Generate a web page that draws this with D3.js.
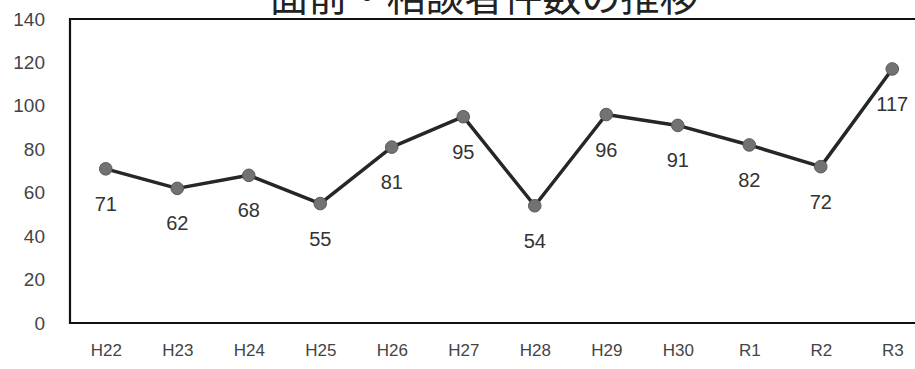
<!DOCTYPE html>
<html>
<head>
<meta charset="utf-8">
<script src="https://cdn.jsdelivr.net/npm/d3@7"></script>
<style>
  html, body { margin: 0; padding: 0; background: #fff; }
  svg { display: block; }
</style>
</head>
<body>
<svg id="chart" width="915" height="369"></svg>
<script>
// Yearly counts of consultations
const years = ["H22", "H23", "H24", "H25", "H26", "H27", "H28", "H29", "H30", "R1", "R2", "R3"];
const counts = [71, 62, 68, 55, 81, 95, 54, 96, 91, 82, 72, 117];
const yTicks = [0, 20, 40, 60, 80, 100, 120, 140];
const chartTitle = "面前・相談者件数の推移";

const svg = d3.select("#chart");
const plotLeft = 70, plotTop = 19, plotBottom = 323, plotRight = 928;

const x = d3.scalePoint().domain(years).range([plotLeft, plotRight]).padding(0.5);
const y = d3.scaleLinear().domain([0, 140]).range([plotBottom, plotTop]);

const font = "'Liberation Sans', Arial, sans-serif";

// Title (top runs off the page)
svg.append("text")
  .attr("x", 484).attr("y", 11)
  .attr("text-anchor", "middle")
  .attr("font-family", "'Noto Sans CJK JP', sans-serif")
  .attr("font-size", 39)
  .attr("fill", "#222")
  .text(chartTitle);

// Y axis labels
const yAxis = d3.axisLeft(y).tickValues(yTicks).tickSize(0).tickPadding(25);
const gy = svg.append("g").attr("transform", `translate(${plotLeft},0)`).call(yAxis);
gy.select(".domain").remove();
gy.selectAll("text")
  .attr("font-family", font).attr("font-size", 19).attr("fill", "#444");

// X axis labels
const xAxis = d3.axisBottom(x).tickSize(0).tickPadding(21);
const gx = svg.append("g").attr("transform", `translate(0,${plotBottom})`).call(xAxis);
gx.select(".domain").remove();
gx.selectAll("text")
  .attr("font-family", font).attr("font-size", 17).attr("fill", "#444");

// Plot frame
svg.append("path")
  .attr("d", `M${plotRight},${plotTop}H${plotLeft}V${plotBottom}H${plotRight}`)
  .attr("fill", "none").attr("stroke", "#111").attr("stroke-width", 2.2);

// Line
const data = years.map((d, i) => ({ year: d, value: counts[i] }));
svg.append("path")
  .datum(data)
  .attr("fill", "none")
  .attr("stroke", "#262626")
  .attr("stroke-width", 3.5)
  .attr("stroke-linejoin", "round")
  .attr("d", d3.line().x(d => x(d.year)).y(d => y(d.value)));

// Markers
svg.append("g").selectAll("circle").data(data).join("circle")
  .attr("cx", d => x(d.year)).attr("cy", d => y(d.value))
  .attr("r", 6.3)
  .attr("fill", "#727272").attr("stroke", "#5a5a5a").attr("stroke-width", 1);

// Value labels below markers
svg.append("g").selectAll("text").data(data).join("text")
  .attr("x", d => x(d.year)).attr("y", d => y(d.value) + 42)
  .attr("text-anchor", "middle")
  .attr("font-family", font).attr("font-size", 20).attr("fill", "#333")
  .text(d => d.value);
</script>
</body>
</html>
